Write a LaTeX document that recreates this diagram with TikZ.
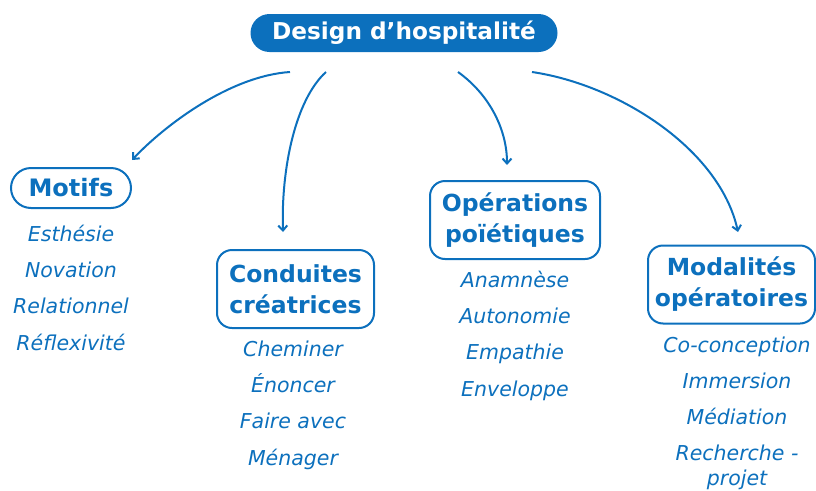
\documentclass[tikz,border=0pt]{standalone}
\usepackage{fontspec}
\setmainfont{DejaVu Sans}
\usetikzlibrary{arrows.meta,shapes.misc}
\definecolor{hblue}{RGB}{12,112,189}
\newcommand{\linew}{2pt}
\newcommand{\rowgap}{36.3}

\begin{document}
\begin{tikzpicture}[x=1pt,y=-1pt]
    \tikzset{
        root/.style = {rounded rectangle, fill=hblue, text=white, inner sep=0pt,
            font=\bfseries\fontsize{23.2}{26}\selectfont,
            minimum width=307pt, minimum height=38pt},
        pill/.style = {rounded rectangle, draw=hblue, line width=\linew, text=hblue, inner sep=0pt,
            font=\bfseries\fontsize{24}{26}\selectfont,
            minimum width=120pt, minimum height=40pt},
        head/.style = {rectangle, rounded corners=15pt, draw=hblue, line width=\linew, text=hblue,
            align=center, inner sep=0pt, font=\bfseries\fontsize{23.5}{31}\selectfont,
            minimum height=78pt},
        item/.style = {text=hblue, align=center, inner sep=0pt,
            text height=20pt, text depth=4pt,
            font=\itshape\fontsize{20.5}{28}\selectfont},
        link/.style = {draw=hblue, line width=\linew, -{Straight Barb[length=5pt,width=9pt]}}
    }
    \useasboundingbox (0,0) rectangle (816,490);
    %\draw[help lines,step=50] (0,0) grid (816,490);

    \node[root] (design) at (404,33) {Design d’hospitalité};

    \node[pill] (motifs) at (71,188) {Motifs};
    \node[head, minimum width=157pt] (conduites) at (295.5,289) {Conduites\\créatrices};
    \node[head, minimum width=170pt] (operations) at (515,220) {Opérations\\poïétiques};
    \node[head, minimum width=167pt] (modalites) at (731.5,284.5) {Modalités\\opératoires};

    \foreach \txt [count=\i] in {Esthésie,Novation,Relationnel,Réflexivité}
        \node[item] (motifs-\i) at (71,{197+\rowgap*\i}) {\txt};
    \foreach \txt [count=\i] in {Cheminer,Énoncer,Faire avec,Ménager}
        \node[item] (conduites-\i) at (293,{312+\rowgap*\i}) {\txt};
    \foreach \txt [count=\i] in {Anamnèse,Autonomie,Empathie,Enveloppe}
        \node[item] (operations-\i) at (515,{243+\rowgap*\i}) {\txt};
    \foreach \txt [count=\i] in {Co-conception,Immersion,Médiation,Recherche -}
        \node[item] (modalites-\i) at (737,{308+36*\i}) {\txt};
    \node[item, text height=16pt] (modalites-5) at (737,479) {projet};

    \coordinate (from-motifs) at (290,72);
    \coordinate (to-motifs) at (132,160);
    \coordinate (from-conduites) at (326,72);
    \coordinate (to-conduites) at (283,232);
    \coordinate (from-operations) at (458,72);
    \coordinate (to-operations) at (507,165);
    \coordinate (from-modalites) at (532,72);
    \coordinate (to-modalites) at (738,232);

    \draw[link] (from-motifs) .. controls (230,76) and (165,125) .. (to-motifs);
    \draw[link] (from-conduites) .. controls (295,100) and (281,170) .. (to-conduites);
    \draw[link] (from-operations) .. controls (490,95) and (507,130) .. (to-operations);
    \draw[link] (from-modalites) .. controls (620,85) and (720,150) .. (to-modalites);
\end{tikzpicture}
\end{document}
